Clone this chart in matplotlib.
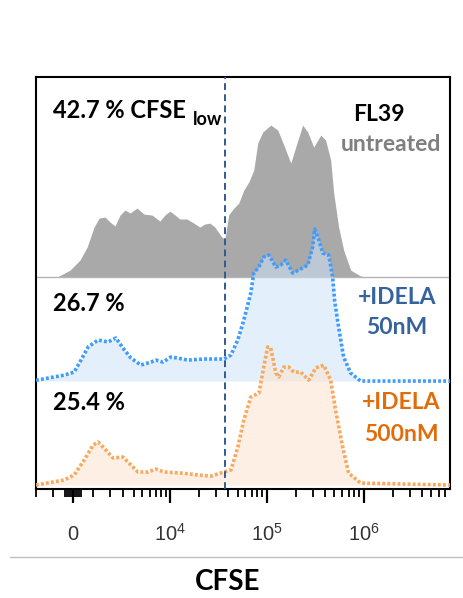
import matplotlib
matplotlib.use("Agg")
import matplotlib.pyplot as plt
import numpy as np
from matplotlib.lines import Line2D

plt.rcParams["font.family"] = ["Lato", "DejaVu Sans"]
plt.rcParams["mathtext.fontset"] = "custom"
plt.rcParams["mathtext.rm"] = "Liberation Sans"
plt.rcParams["mathtext.it"] = "Liberation Sans"

# CFSE intensity (x) and % of mode (y)
untreated_x = [-780, -140, 330, 680, 1040, 1320, 1670, 1990, 2340, 2730, 3150, 3620,
               4350, 5210, 6360, 7760, 8760, 9900, 11200, 12600, 14900, 17600, 20300,
               22900, 25800, 29100, 34300, 36900, 40500, 45700, 51400, 57900, 65200,
               73400, 80700, 90900, 110000, 130000, 150000, 177000, 199000, 235000,
               265000, 305000, 361000, 405000, 457000, 491000, 552000, 622000, 735000,
               931000, 1100000]
untreated_y = [0, 4.6, 11.2, 19.7, 32.9, 38.8, 39.5, 36.2, 33.6, 40.8, 44.1, 42.1,
               45.4, 41.4, 40.8, 36.8, 40.8, 43.4, 40.8, 38.2, 38.2, 35.5, 32.9,
               34.9, 35.5, 32.9, 26.3, 25.0, 41.0, 45.4, 48.7, 57.2, 62.5,
               70.4, 88.2, 95.4, 100, 96.7, 86.8, 75.0, 85.5, 100,
               95.4, 85.5, 93.4, 90.1, 77.0, 55.3, 32.9, 17.8, 4.6,
               0.7, 0]

idela50_x = [-2000, -430, 50, 380, 730, 1260, 1860, 2410, 2970, 3710, 4820, 6210, 7040,
             8350, 10100, 12000, 15300, 22400, 36000, 42600, 50200, 57900, 68400,
             73400, 82800, 93100, 105000, 124000, 139000, 157000, 185000, 214000,
             265000, 298000, 313000, 344000, 378000, 436000, 479000, 502000, 552000,
             622000, 735000, 931000, 8000000]
idela50_y = [0.5, 3.9, 5.9, 13.8, 22.4, 27.0, 25.7, 28.3, 21.7, 15.1, 10.5, 12.5, 13.8,
             12.5, 15.8, 15.1, 13.8, 14.5, 14.5, 17.1, 27.0, 40.1, 57.9,
             71.1, 75.0, 81.6, 82.9, 75.0, 76.3, 79.6, 71.1, 73.0,
             76.3, 88.2, 100, 92.8, 84.2, 82.9, 68.4, 53.0, 35.5,
             15.8, 5.3, 0, 0]

idela500_x = [-2000, -430, 50, 530, 990, 1260, 1610, 2200, 2970, 3510, 4460, 5760, 7040,
              8560, 13000, 19500, 26500, 36000, 42600, 50200, 57900, 68400, 82800,
              93100, 102000, 110000, 124000, 133000, 150000, 169000, 190000, 224000,
              271000, 320000, 387000, 457000, 514000, 608000, 700000, 931000, 8000000]
idela500_y = [0, 3.3, 6.6, 16.4, 26.3, 28.3, 24.3, 17.8, 18.4, 14.5, 8.6, 8.6, 10.5,
              8.6, 7.9, 6.6, 5.9, 8.6, 9.9, 25.0, 42.8, 57.9, 60.5,
              77.6, 90.8, 90.1, 73.7, 71.1, 77.6, 77.6, 74.3, 74.3,
              69.1, 77.0, 78.9, 69.1, 49.3, 25.0, 7.9, 1.3, 0]

gate = 37000
major_ticks = [0, 1e4, 1e5, 1e6]
major_labels = [r"$0$", r"$10^{4}$", r"$10^{5}$", r"$10^{6}$"]
minor_ticks = ([-2000, -1000, -400, -300, -200, -100, 100, 200, 300, 400, 1000]
               + [k * 1000 for k in range(2, 10)]
               + [k * 10000 for k in range(2, 10)]
               + [k * 100000 for k in range(2, 10)]
               + [k * 1000000 for k in range(2, 8)])

ROW = 68.4  # vertical offset between stacked histograms, in % of mode
W = 2000.0


def fwd(x):
    return np.arcsinh(np.asarray(x) / W) / np.log(10)


def inv(y):
    return W * np.sinh(np.asarray(y) * np.log(10))


fig = plt.figure(figsize=(4.63, 5.98), dpi=100)
ax = fig.add_axes([36 / 463, 1 - 489 / 598, 414 / 463, 412 / 598])
ax.set_xscale("function", functions=(fwd, inv))
ax.set_xlim(-1920, 7.8e6)
ax.set_ylim(-2.6, 268.4)

# untreated (gray, filled)
ux = np.array(untreated_x, dtype=float)
uy = np.array(untreated_y) + 2 * ROW
ax.fill_between(ux, 2 * ROW, uy, color="#a9a9a9", linewidth=0, zorder=1)
ax.axhline(2 * ROW, color="#b4b4b4", linewidth=1.0, zorder=1.5)

# +IDELA 50nM (blue dotted)
bx = np.array(idela50_x, dtype=float)
by = np.array(idela50_y) + ROW
ax.fill_between(bx, ROW, by, color="#cfe3fa", alpha=0.55, linewidth=0, zorder=2)
ax.plot(bx, by, color="#3f9cff", linewidth=2.6, linestyle=(0, (0.8, 0.6)), zorder=3)

# +IDELA 500nM (orange dotted)
ox = np.array(idela500_x, dtype=float)
oy = np.array(idela500_y)
ax.fill_between(ox, 0, oy, color="#fde3cc", alpha=0.55, linewidth=0, zorder=4)
ax.plot(ox, oy, color="#f9a95e", linewidth=2.6, linestyle=(0, (0.8, 0.6)), zorder=5)

ax.axvline(gate, color="#2f5b94", linewidth=1.4, linestyle=(0, (3.5, 2.2)), zorder=6)

ax.set_xticks(major_ticks)
ax.set_xticklabels(major_labels)
ax.set_xticks(minor_ticks, minor=True)
ax.tick_params(axis="x", which="major", length=10, width=1.6, direction="out",
               labelsize=14.5, colors="black", labelcolor="#333333", pad=27)
ax.tick_params(axis="x", which="minor", length=5.5, width=1.3, direction="out")
for lbl in ax.get_xticklabels():
    lbl.set_verticalalignment("baseline")
ax.set_yticks([])
for s in ax.spines.values():
    s.set_color("black")
    s.set_linewidth(1.5)

tr = ax.transAxes
ax.text(0.041, 0.918, "42.7 % CFSE", transform=tr, fontsize=17, fontweight="bold",
        ha="left", va="center")
ax.text(0.379, 0.898, "low", transform=tr, fontsize=13, fontweight="bold",
        ha="left", va="center")
ax.text(0.829, 0.910, "FL39", transform=tr, fontsize=16.5, fontweight="bold",
        ha="center", va="center")
ax.text(0.857, 0.835, "untreated", transform=tr, fontsize=16.5, fontweight="bold",
        color="#7f7f7f", ha="center", va="center")
ax.text(0.041, 0.451, "26.7 %", transform=tr, fontsize=17, fontweight="bold",
        ha="left", va="center")
ax.text(0.872, 0.464, "+IDELA", transform=tr, fontsize=16.5, fontweight="bold",
        color="#36639c", ha="center", va="center")
ax.text(0.870, 0.391, "50nM", transform=tr, fontsize=16.5, fontweight="bold",
        color="#36639c", ha="center", va="center")
ax.text(0.041, 0.211, "25.4 %", transform=tr, fontsize=17, fontweight="bold",
        ha="left", va="center")
ax.text(0.882, 0.211, "+IDELA", transform=tr, fontsize=16.5, fontweight="bold",
        color="#e36c0a", ha="center", va="center")
ax.text(0.882, 0.133, "500nM", transform=tr, fontsize=16.5, fontweight="bold",
        color="#e36c0a", ha="center", va="center")

fig.add_artist(Line2D([10 / 463, 1.0], [1 - 557 / 598] * 2, transform=fig.transFigure,
                      color="#c0c0c0", linewidth=1.0))
fig.text(228 / 463, 1 - 582 / 598, "CFSE", fontsize=20, fontweight="bold",
         ha="center", va="center")

fig.savefig("out.png", dpi=100)
